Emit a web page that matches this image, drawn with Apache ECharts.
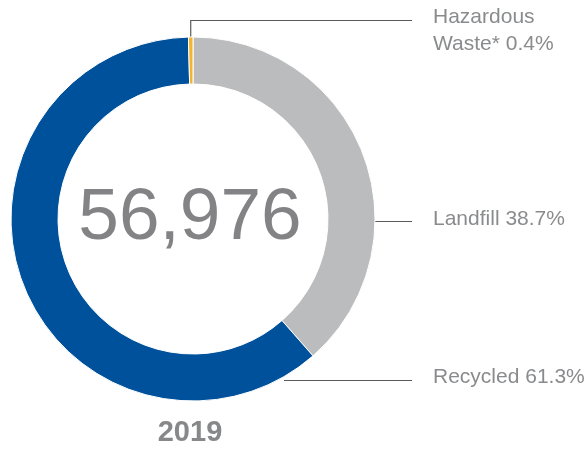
<!DOCTYPE html>
<html>
<head>
<meta charset="utf-8">
<script src="https://cdn.jsdelivr.net/npm/echarts@6/dist/echarts.min.js"></script>
<style>
  html, body { margin: 0; padding: 0; background: #fff; }
  #chart { width: 588px; height: 449px; }
</style>
</head>
<body>
<div id="chart"></div>
<script>
// Waste breakdown for 2019 (percent of total tonnage)
const categories = ['Landfill', 'Recycled', 'Hazardous Waste*'];
const labelNames = ['Landfill', 'Recycled', 'Hazardous\nWaste*'];
const shares = [38.7, 61.3, 0.4];
const totalTonnes = 56976;
const yearLabel = '2019';

const colors = ['#bbbcbe', '#00519c', '#f2b431'];

// ring geometry
const CX = 193, CY = 219, R_IN = 135, R_OUT = 182;
// where each leader line leaves the ring (degrees clockwise from 12 o'clock)
const anchorDeg = [90, 150, null];
const lineEndX = 412, textX = 433;

const chart = echarts.init(document.getElementById('chart'), null, { renderer: 'canvas' });

function ringPoint(deg) {
  const a = deg * Math.PI / 180;
  return [CX + R_OUT * Math.sin(a), CY - R_OUT * Math.cos(a)];
}

chart.setOption({
  animation: false,
  graphic: [{
    type: 'text',
    x: CX - 3,
    y: CY,
    style: {
      text: totalTonnes.toLocaleString('en-US'),
      align: 'center',
      verticalAlign: 'middle',
      font: '73px "Liberation Sans"',
      fill: '#838386'
    }
  }, {
    type: 'text',
    x: CX - 3,
    y: 433,
    style: {
      text: yearLabel,
      align: 'center',
      verticalAlign: 'middle',
      font: 'bold 29px "Liberation Sans"',
      fill: '#87888a'
    }
  }],
  series: [{
    type: 'pie',
    center: [CX, CY],
    radius: [R_IN, R_OUT],
    startAngle: 90,
    clockwise: true,
    avoidLabelOverlap: false,
    itemStyle: { borderColor: '#ffffff', borderWidth: 1 },
    emphasis: { disabled: true },
    data: categories.map((c, i) => ({
      name: c,
      value: shares[i],
      itemStyle: { color: colors[i] },
      label: { formatter: labelNames[i] + ' ' + shares[i].toFixed(1) + '%' }
    })),
    label: {
      show: true,
      fontFamily: 'Liberation Sans',
      fontSize: 21,
      lineHeight: 27,
      color: '#8a8b8d',
      align: 'left'
    },
    labelLine: {
      show: true,
      lineStyle: { color: '#5a5a5a', width: 1.2 }
    },
    labelLayout: function (params) {
      const i = params.dataIndex;
      const def = params.labelLinePoints;
      let pts;
      let ty;
      if (anchorDeg[i] === null) {
        // small slice: rise straight up from its midpoint, then run right
        const start = def[0];
        const y = 20.5;
        pts = [start, [start[0], y], [lineEndX, y]];
        ty = 31;
      } else {
        const start = ringPoint(anchorDeg[i]);
        const y = i === 0 ? CY + 2.5 : 380.5;
        pts = [[start[0], y], [(start[0] + lineEndX) / 2, y], [lineEndX, y]];
        ty = i === 0 ? CY : 377;
      }
      return {
        x: textX,
        y: ty,
        align: 'left',
        verticalAlign: 'middle',
        labelLinePoints: pts
      };
    }
  }]
});
</script>
</body>
</html>
